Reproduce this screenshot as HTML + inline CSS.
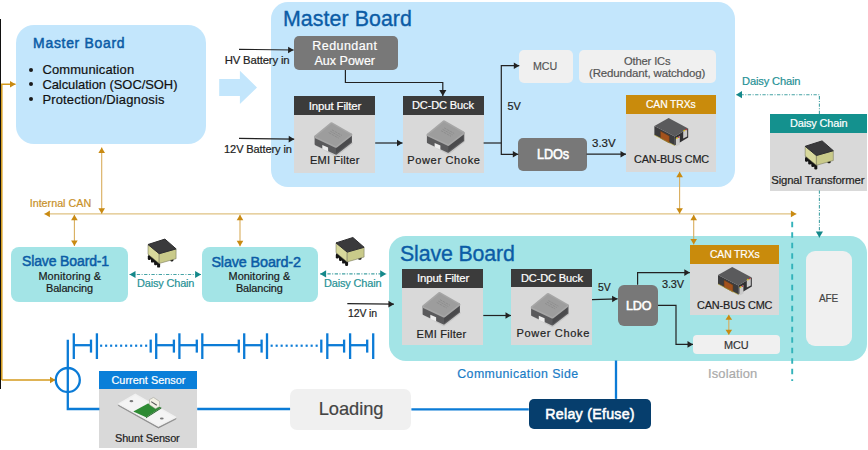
<!DOCTYPE html>
<html><head><meta charset="utf-8"><style>
html,body{margin:0;padding:0;background:#fff;width:868px;height:450px;overflow:hidden;position:relative;font-family:"Liberation Sans",sans-serif;}
.a{position:absolute}
.t{position:absolute;white-space:nowrap;line-height:1;-webkit-text-stroke:0.2px currentColor}
svg{position:absolute;left:0;top:0}
</style></head><body>
<div class="a" style="left:16.00px;top:25.00px;width:190.00px;height:119.30px;background:#c3e6fc;border-radius:18px;"></div>
<div class="t" style="left:33.10px;top:37.00px;font-size:13.95px;letter-spacing:0.710px;color:#0b5ca6;-webkit-text-stroke:0.5px currentColor;">Master Board</div>
<div class="a" style="left:29px;top:67.70px;width:4px;height:4px;border-radius:50%;background:#1a1a1a"></div>
<div class="t" style="left:42.40px;top:64.00px;font-size:12.94px;letter-spacing:0.158px;color:#111;">Communication</div>
<div class="a" style="left:29px;top:82.45px;width:4px;height:4px;border-radius:50%;background:#1a1a1a"></div>
<div class="t" style="left:42.40px;top:79.00px;font-size:12.94px;letter-spacing:-0.040px;color:#111;">Calculation (SOC/SOH)</div>
<div class="a" style="left:29px;top:97.20px;width:4px;height:4px;border-radius:50%;background:#1a1a1a"></div>
<div class="t" style="left:42.40px;top:94.00px;font-size:12.94px;letter-spacing:0.183px;color:#111;">Protection/Diagnosis</div>
<div class="a" style="left:271.30px;top:1.80px;width:463.70px;height:184.90px;background:#c3e6fc;border-radius:17px;"></div>
<div class="t" style="left:283.00px;top:9.00px;font-size:21.37px;letter-spacing:0.063px;color:#0b5ca6;-webkit-text-stroke:0.35px currentColor;">Master Board</div>
<div class="a" style="left:294.00px;top:36.00px;width:104.00px;height:34.00px;background:#787878;border-radius:5px;"></div>
<div class="t" style="left:312.30px;top:40.00px;font-size:12.50px;letter-spacing:0.439px;color:#fff;">Redundant</div>
<div class="t" style="left:314.50px;top:55.00px;font-size:12.50px;letter-spacing:0.008px;color:#fff;">Aux Power</div>
<div class="a" style="left:294.40px;top:96.40px;width:80.80px;height:18.80px;background:#3b3b3b;border-radius:0px;"></div>
<div class="a" style="left:294.40px;top:115.20px;width:80.80px;height:57.50px;background:#d9d9d9;border-radius:0px;"></div>
<div class="t" style="left:308.80px;top:101.00px;font-size:11.48px;letter-spacing:-0.150px;color:#fff;">Input Filter</div>
<div class="t" style="left:309.90px;top:155.00px;font-size:11.05px;letter-spacing:0.247px;color:#222;">EMI Filter</div>
<div class="a" style="left:402.50px;top:95.90px;width:81.10px;height:18.80px;background:#3b3b3b;border-radius:0px;"></div>
<div class="a" style="left:402.50px;top:114.70px;width:81.10px;height:58.00px;background:#d9d9d9;border-radius:0px;"></div>
<div class="t" style="left:411.80px;top:100.00px;font-size:11.48px;letter-spacing:-0.150px;transform:scaleX(0.9652);transform-origin:0 0;color:#fff;">DC-DC Buck</div>
<div class="t" style="left:407.20px;top:155.00px;font-size:11.05px;letter-spacing:0.647px;color:#222;">Power Choke</div>
<div class="a" style="left:519.30px;top:50.20px;width:53.60px;height:33.10px;background:#f0f0f0;border-radius:5px;"></div>
<div class="t" style="left:533.40px;top:60.00px;font-size:11.77px;letter-spacing:-0.150px;transform:scaleX(0.9100);transform-origin:0 0;color:#555;">MCU</div>
<div class="a" style="left:578.80px;top:50.20px;width:137.00px;height:33.30px;background:#f0f0f0;border-radius:5px;"></div>
<div class="t" style="left:623.60px;top:55.00px;font-size:11.63px;letter-spacing:-0.150px;transform:scaleX(0.9595);transform-origin:0 0;color:#555;">Other ICs</div>
<div class="t" style="left:588.70px;top:67.00px;font-size:11.63px;letter-spacing:-0.150px;transform:scaleX(0.9875);transform-origin:0 0;color:#555;">(Redundant, watchdog)</div>
<div class="a" style="left:626.00px;top:95.30px;width:90.00px;height:18.90px;background:#c98b0c;border-radius:0px;"></div>
<div class="a" style="left:626.00px;top:114.20px;width:90.00px;height:57.50px;background:#d9d9d9;border-radius:0px;"></div>
<div class="t" style="left:646.00px;top:99.00px;font-size:11.19px;letter-spacing:-0.150px;transform:scaleX(0.9298);transform-origin:0 0;color:#fff;">CAN TRXs</div>
<div class="t" style="left:633.60px;top:154.00px;font-size:11.19px;letter-spacing:-0.150px;transform:scaleX(0.9708);transform-origin:0 0;color:#222;">CAN-BUS CMC</div>
<div class="a" style="left:518.30px;top:137.70px;width:68.30px;height:33.40px;background:#787878;border-radius:5px;"></div>
<div class="t" style="left:536.50px;top:148.00px;font-size:13.81px;letter-spacing:-0.150px;transform:scaleX(0.9188);transform-origin:0 0;color:#fff;-webkit-text-stroke:0.55px currentColor;">LDOs</div>
<div class="t" style="left:507.50px;top:101.00px;font-size:10.90px;letter-spacing:-0.054px;color:#222;">5V</div>
<div class="t" style="left:592.10px;top:138.00px;font-size:11.48px;letter-spacing:-0.032px;color:#222;">3.3V</div>
<div class="t" style="left:224.70px;top:55.00px;font-size:11.34px;letter-spacing:-0.150px;color:#222;">HV Battery in</div>
<div class="t" style="left:224.10px;top:144.00px;font-size:11.05px;letter-spacing:-0.121px;color:#222;">12V Battery in</div>
<div class="a" style="left:769.80px;top:114.00px;width:97.40px;height:18.50px;background:#14918e;border-radius:0px;"></div>
<div class="a" style="left:769.80px;top:132.50px;width:97.40px;height:58.00px;background:#d9d9d9;border-radius:0px;"></div>
<div class="t" style="left:789.80px;top:118.00px;font-size:11.34px;letter-spacing:-0.150px;transform:scaleX(0.9663);transform-origin:0 0;color:#fff;">Daisy Chain</div>
<div class="t" style="left:771.30px;top:175.00px;font-size:11.34px;letter-spacing:-0.150px;color:#222;">Signal Transformer</div>
<div class="t" style="left:741.90px;top:76.00px;font-size:11.19px;letter-spacing:-0.150px;transform:scaleX(0.9945);transform-origin:0 0;color:#1f9195;">Daisy Chain</div>
<div class="t" style="left:29.70px;top:198.00px;font-size:10.76px;letter-spacing:-0.007px;color:#c8912a;">Internal CAN</div>
<div class="a" style="left:11.10px;top:246.70px;width:116.70px;height:55.00px;background:#a3e4e6;border-radius:8px;"></div>
<div class="t" style="left:21.60px;top:254.00px;font-size:14.39px;letter-spacing:-0.150px;transform:scaleX(0.9759);transform-origin:0 0;color:#0b5ca6;-webkit-text-stroke:0.5px currentColor;">Slave Board-1</div>
<div class="t" style="left:38.40px;top:271.00px;font-size:10.90px;letter-spacing:0.145px;color:#1a1a1a;">Monitoring &amp;</div>
<div class="t" style="left:46.00px;top:283.00px;font-size:10.90px;letter-spacing:-0.107px;color:#1a1a1a;">Balancing</div>
<div class="a" style="left:201.60px;top:247.00px;width:116.00px;height:54.70px;background:#a3e4e6;border-radius:8px;"></div>
<div class="t" style="left:211.40px;top:255.00px;font-size:14.39px;letter-spacing:-0.130px;color:#0b5ca6;-webkit-text-stroke:0.5px currentColor;">Slave Board-2</div>
<div class="t" style="left:228.50px;top:271.00px;font-size:10.90px;letter-spacing:0.054px;color:#1a1a1a;">Monitoring &amp;</div>
<div class="t" style="left:235.90px;top:283.00px;font-size:10.90px;letter-spacing:-0.120px;color:#1a1a1a;">Balancing</div>
<div class="t" style="left:136.90px;top:278.00px;font-size:11.05px;letter-spacing:-0.150px;transform:scaleX(0.9890);transform-origin:0 0;color:#1f9195;">Daisy Chain</div>
<div class="t" style="left:324.40px;top:278.00px;font-size:11.05px;letter-spacing:-0.150px;transform:scaleX(0.9924);transform-origin:0 0;color:#1f9195;">Daisy Chain</div>
<div class="t" style="left:347.90px;top:308.00px;font-size:11.34px;letter-spacing:-0.150px;transform:scaleX(0.9270);transform-origin:0 0;color:#222;">12V in</div>
<div class="a" style="left:388.70px;top:236.30px;width:477.90px;height:124.50px;background:#a3e4e6;border-radius:17px;"></div>
<div class="t" style="left:400.30px;top:243.00px;font-size:21.80px;letter-spacing:-0.150px;transform:scaleX(0.9794);transform-origin:0 0;color:#0b5ca6;-webkit-text-stroke:0.35px currentColor;">Slave Board</div>
<div class="a" style="left:402.20px;top:268.90px;width:81.10px;height:18.70px;background:#3b3b3b;border-radius:0px;"></div>
<div class="a" style="left:402.20px;top:287.60px;width:81.10px;height:57.50px;background:#d9d9d9;border-radius:0px;"></div>
<div class="t" style="left:417.30px;top:273.00px;font-size:11.48px;letter-spacing:-0.150px;transform:scaleX(0.9942);transform-origin:0 0;color:#fff;">Input Filter</div>
<div class="t" style="left:416.60px;top:329.00px;font-size:11.05px;letter-spacing:0.247px;color:#222;">EMI Filter</div>
<div class="a" style="left:511.00px;top:268.50px;width:81.00px;height:18.10px;background:#3b3b3b;border-radius:0px;"></div>
<div class="a" style="left:511.00px;top:286.60px;width:81.00px;height:58.60px;background:#d9d9d9;border-radius:0px;"></div>
<div class="t" style="left:520.50px;top:273.00px;font-size:11.48px;letter-spacing:-0.150px;transform:scaleX(0.9652);transform-origin:0 0;color:#fff;">DC-DC Buck</div>
<div class="t" style="left:516.40px;top:328.00px;font-size:11.05px;letter-spacing:0.667px;color:#222;">Power Choke</div>
<div class="a" style="left:617.60px;top:284.80px;width:40.40px;height:41.60px;background:#787878;border-radius:6px;"></div>
<div class="t" style="left:625.60px;top:300.00px;font-size:12.65px;letter-spacing:-0.150px;transform:scaleX(0.9889);transform-origin:0 0;color:#fff;-webkit-text-stroke:0.55px currentColor;">LDO</div>
<div class="a" style="left:689.80px;top:244.80px;width:89.40px;height:19.20px;background:#c98b0c;border-radius:0px;"></div>
<div class="a" style="left:689.80px;top:264.00px;width:89.40px;height:50.70px;background:#d9d9d9;border-radius:0px;"></div>
<div class="t" style="left:709.50px;top:249.00px;font-size:11.19px;letter-spacing:-0.150px;transform:scaleX(0.9298);transform-origin:0 0;color:#fff;">CAN TRXs</div>
<div class="t" style="left:697.00px;top:300.00px;font-size:11.19px;letter-spacing:-0.150px;transform:scaleX(0.9747);transform-origin:0 0;color:#222;">CAN-BUS CMC</div>
<div class="a" style="left:693.00px;top:334.70px;width:86.70px;height:19.50px;background:#f0f0f0;border-radius:4px;"></div>
<div class="t" style="left:723.70px;top:339.00px;font-size:11.63px;letter-spacing:-0.150px;transform:scaleX(0.9368);transform-origin:0 0;color:#333;">MCU</div>
<div class="a" style="left:806.40px;top:251.20px;width:46.10px;height:94.70px;background:#f0f0f0;border-radius:9px;"></div>
<div class="t" style="left:819.20px;top:293.00px;font-size:11.19px;letter-spacing:-0.150px;transform:scaleX(0.8943);transform-origin:0 0;color:#444;">AFE</div>
<div class="t" style="left:598.40px;top:282.00px;font-size:10.61px;letter-spacing:-0.150px;transform:scaleX(0.9807);transform-origin:0 0;color:#222;">5V</div>
<div class="t" style="left:662.00px;top:279.00px;font-size:11.19px;letter-spacing:-0.150px;transform:scaleX(0.9756);transform-origin:0 0;color:#222;">3.3V</div>
<div class="t" style="left:457.30px;top:368.00px;font-size:12.35px;letter-spacing:0.408px;color:#1a7cc6;">Communication Side</div>
<div class="t" style="left:708.00px;top:368.00px;font-size:12.94px;letter-spacing:0.139px;color:#aaaaaa;">Isolation</div>
<div class="a" style="left:99.40px;top:370.90px;width:97.80px;height:18.00px;background:#0a7fd9;border-radius:0px;"></div>
<div class="a" style="left:99.40px;top:388.90px;width:97.80px;height:58.70px;background:#d9d9d9;border-radius:0px;"></div>
<div class="t" style="left:111.50px;top:375.00px;font-size:10.90px;letter-spacing:0.007px;color:#fff;">Current Sensor</div>
<div class="t" style="left:115.40px;top:433.00px;font-size:11.34px;letter-spacing:-0.150px;transform:scaleX(0.9664);transform-origin:0 0;color:#222;">Shunt Sensor</div>
<div class="a" style="left:290.10px;top:388.80px;width:121.30px;height:41.00px;background:#f0f0f0;border-radius:7px;"></div>
<div class="t" style="left:318.70px;top:400.00px;font-size:18.31px;letter-spacing:-0.050px;color:#444;">Loading</div>
<div class="a" style="left:528.80px;top:398.90px;width:122.10px;height:29.90px;background:#063e6d;border-radius:5px;"></div>
<div class="t" style="left:545.30px;top:407.00px;font-size:14.24px;letter-spacing:0.257px;color:#fff;-webkit-text-stroke:0.55px currentColor;">Relay (Efuse)</div>
<div class="a" style="left:0.00px;top:19.00px;width:1.20px;height:370.00px;background:#111;border-radius:0px;"></div>
<svg width="868" height="450" viewBox="0 0 868 450">
<path d="M219.2,78.9 L239.9,78.9 L239.9,70.8 L257,87.5 L239.9,104 L239.9,96 L219.2,96 Z" fill="#c3e6fc"/>
<path d="M239.00,49.30 L293.60,50.00" fill="none" stroke="#222" stroke-width="1.2"/>
<path d="M293.60,50.00 L288.06,53.23 L288.14,46.63 Z" fill="#222"/>
<path d="M345.40,70.00 L345.40,82.50 L442.80,82.50 L442.80,95.90" fill="none" stroke="#222" stroke-width="1.2"/>
<path d="M442.80,95.90 L439.20,89.90 L446.40,89.90 Z" fill="#222"/>
<path d="M239.00,138.40 L294.20,139.20" fill="none" stroke="#222" stroke-width="1.2"/>
<path d="M294.20,139.20 L288.65,142.42 L288.75,135.82 Z" fill="#222"/>
<path d="M375.20,143.00 L402.50,143.00" fill="none" stroke="#222" stroke-width="1.2"/>
<path d="M402.50,143.00 L397.00,146.30 L397.00,139.70 Z" fill="#222"/>
<path d="M483.60,143.00 L501.30,143.00" fill="none" stroke="#222" stroke-width="1.2"/>
<path d="M501.30,143.00 L501.30,65.70 L519.30,65.70" fill="none" stroke="#222" stroke-width="1.2"/>
<path d="M519.30,65.70 L513.80,69.00 L513.80,62.40 Z" fill="#222"/>
<path d="M501.30,143.00 L501.30,154.30 L518.30,154.30" fill="none" stroke="#222" stroke-width="1.2"/>
<path d="M518.30,154.30 L512.80,157.60 L512.80,151.00 Z" fill="#222"/>
<path d="M586.60,154.20 L626.00,154.20" fill="none" stroke="#222" stroke-width="1.2"/>
<path d="M626.00,154.20 L620.50,157.50 L620.50,150.90 Z" fill="#222"/>
<path d="M819.40,114.00 L819.40,94.70 L736.00,94.70" fill="none" stroke="#45a2a4" stroke-width="1.1" stroke-dasharray="3.3 1.5 1 1.5"/>
<path d="M736.00,94.70 L742.00,91.10 L742.00,98.30 Z" fill="#14888a"/>
<path d="M819.40,190.50 L819.40,237.40" fill="none" stroke="#45a2a4" stroke-width="1.1" stroke-dasharray="3.3 1.5 1 1.5"/>
<path d="M819.40,237.40 L815.80,231.40 L823.00,231.40 Z" fill="#14888a"/>
<path d="M44.40,213.90 L796.40,213.90" fill="none" stroke="#dfc282" stroke-width="1.4"/>
<path d="M796.40,213.90 L790.90,217.20 L790.90,210.60 Z" fill="#c98a12"/>
<path d="M44.40,213.90 L49.90,210.60 L49.90,217.20 Z" fill="#c98a12"/>
<path d="M101.70,147.50 L101.70,213.80" fill="none" stroke="#d9ad5c" stroke-width="1.1"/>
<path d="M101.70,213.80 L98.40,208.30 L105.00,208.30 Z" fill="#c98a12"/>
<path d="M101.70,147.50 L105.00,153.00 L98.40,153.00 Z" fill="#c98a12"/>
<path d="M74.40,214.80 L74.40,246.00" fill="none" stroke="#d9ad5c" stroke-width="1.1"/>
<path d="M74.40,246.00 L71.10,240.50 L77.70,240.50 Z" fill="#c98a12"/>
<path d="M74.40,214.80 L77.70,220.30 L71.10,220.30 Z" fill="#c98a12"/>
<path d="M240.00,214.80 L240.00,246.30" fill="none" stroke="#d9ad5c" stroke-width="1.1"/>
<path d="M240.00,246.30 L236.70,240.80 L243.30,240.80 Z" fill="#c98a12"/>
<path d="M240.00,214.80 L243.30,220.30 L236.70,220.30 Z" fill="#c98a12"/>
<path d="M679.60,171.70 L679.60,213.80" fill="none" stroke="#d9ad5c" stroke-width="1.1"/>
<path d="M679.60,213.80 L676.30,208.30 L682.90,208.30 Z" fill="#c98a12"/>
<path d="M679.60,171.70 L682.90,177.20 L676.30,177.20 Z" fill="#c98a12"/>
<path d="M693.70,214.80 L693.70,244.60" fill="none" stroke="#d9ad5c" stroke-width="1.1"/>
<path d="M693.70,244.60 L690.40,239.10 L697.00,239.10 Z" fill="#c98a12"/>
<path d="M693.70,214.80 L697.00,220.30 L690.40,220.30 Z" fill="#c98a12"/>
<path d="M728.80,314.70 L728.80,334.70" fill="none" stroke="#d9ad5c" stroke-width="1.1"/>
<path d="M728.80,334.70 L725.50,329.70 L732.10,329.70 Z" fill="#c98a12"/>
<path d="M728.80,314.70 L732.10,319.70 L725.50,319.70 Z" fill="#c98a12"/>
<path d="M1.80,380.00 L1.80,84.20 L15.50,84.20" fill="none" stroke="#d49a1c" stroke-width="1.5"/>
<path d="M15.50,84.20 L10.00,87.50 L10.00,80.90 Z" fill="#c98a12"/>
<path d="M1.80,380.00 L55.50,380.00" fill="none" stroke="#d49a1c" stroke-width="1.5"/>
<path d="M55.50,380.00 L50.00,383.30 L50.00,376.70 Z" fill="#c98a12"/>
<path d="M129.50,274.50 L201.10,274.50" fill="none" stroke="#45a2a4" stroke-width="1.1" stroke-dasharray="3.3 1.5 1 1.5"/>
<path d="M201.10,274.50 L195.10,278.10 L195.10,270.90 Z" fill="#14888a"/>
<path d="M129.50,274.50 L135.50,270.90 L135.50,278.10 Z" fill="#14888a"/>
<path d="M320.10,273.90 L386.20,273.90" fill="none" stroke="#45a2a4" stroke-width="1.1" stroke-dasharray="3.3 1.5 1 1.5"/>
<path d="M386.20,273.90 L380.20,277.50 L380.20,270.30 Z" fill="#14888a"/>
<path d="M320.10,273.90 L326.10,270.30 L326.10,277.50 Z" fill="#14888a"/>
<path d="M347.30,303.60 L393.90,304.20" fill="none" stroke="#222" stroke-width="1.2"/>
<path d="M393.90,304.20 L388.36,307.43 L388.44,300.83 Z" fill="#222"/>
<path d="M483.30,315.50 L511.00,315.50" fill="none" stroke="#222" stroke-width="1.2"/>
<path d="M511.00,315.50 L505.50,318.80 L505.50,312.20 Z" fill="#222"/>
<path d="M592.00,299.60 L617.60,298.80" fill="none" stroke="#222" stroke-width="1.2"/>
<path d="M617.60,298.80 L612.21,302.27 L612.00,295.67 Z" fill="#222"/>
<path d="M637.60,284.80 L637.60,272.60 L689.80,272.60" fill="none" stroke="#222" stroke-width="1.2"/>
<path d="M689.80,272.60 L684.30,275.90 L684.30,269.30 Z" fill="#222"/>
<path d="M658.00,305.30 L676.00,305.30 L676.00,344.40 L693.00,344.40" fill="none" stroke="#222" stroke-width="1.2"/>
<path d="M693.00,344.40 L687.50,347.70 L687.50,341.10 Z" fill="#222"/>
<path d="M792.20,221.70 L792.20,381.00" fill="none" stroke="#33b2ba" stroke-width="1.9" stroke-dasharray="5.5 5"/>
<path d="M67.80,339.70 L67.80,409.00 L99.40,409.00" fill="none" stroke="#0b7bd6" stroke-width="2.3"/>
<path d="M197.20,409.00 L290.10,409.00" fill="none" stroke="#0b7bd6" stroke-width="2.3"/>
<path d="M411.40,409.40 L528.80,409.40" fill="none" stroke="#0b7bd6" stroke-width="2.3"/>
<path d="M616.00,360.50 L616.00,398.90" fill="none" stroke="#0b7bd6" stroke-width="2.3"/>
<circle cx="67.8" cy="380" r="12" fill="none" stroke="#0b7bd6" stroke-width="2.3"/>
<path d="M73.8,333.3 L73.8,359" stroke="#0b7bd6" stroke-width="2.3"/>
<path d="M96.9,333.3 L96.9,359" stroke="#0b7bd6" stroke-width="2.3"/>
<path d="M156.2,333.3 L156.2,359" stroke="#0b7bd6" stroke-width="2.3"/>
<path d="M179.4,333.3 L179.4,359" stroke="#0b7bd6" stroke-width="2.3"/>
<path d="M202.3,333.3 L202.3,359" stroke="#0b7bd6" stroke-width="2.3"/>
<path d="M244.2,333.3 L244.2,359" stroke="#0b7bd6" stroke-width="2.3"/>
<path d="M267,333.3 L267,359" stroke="#0b7bd6" stroke-width="2.3"/>
<path d="M327.3,333.3 L327.3,359" stroke="#0b7bd6" stroke-width="2.3"/>
<path d="M350.1,333.3 L350.1,359" stroke="#0b7bd6" stroke-width="2.3"/>
<path d="M373.2,333.3 L373.2,359" stroke="#0b7bd6" stroke-width="2.3"/>
<path d="M91,339.6 L91,352.6" stroke="#0b7bd6" stroke-width="2.3"/>
<path d="M150.7,339.6 L150.7,352.6" stroke="#0b7bd6" stroke-width="2.3"/>
<path d="M173.9,339.6 L173.9,352.6" stroke="#0b7bd6" stroke-width="2.3"/>
<path d="M196.8,339.6 L196.8,352.6" stroke="#0b7bd6" stroke-width="2.3"/>
<path d="M238.8,339.6 L238.8,352.6" stroke="#0b7bd6" stroke-width="2.3"/>
<path d="M261.6,339.6 L261.6,352.6" stroke="#0b7bd6" stroke-width="2.3"/>
<path d="M321.3,339.6 L321.3,352.6" stroke="#0b7bd6" stroke-width="2.3"/>
<path d="M344.1,339.6 L344.1,352.6" stroke="#0b7bd6" stroke-width="2.3"/>
<path d="M367.2,339.6 L367.2,352.6" stroke="#0b7bd6" stroke-width="2.3"/>
<path d="M73.8,345.2 L91,345.2" stroke="#0b7bd6" stroke-width="2.3"/>
<path d="M156.2,345.2 L173.9,345.2" stroke="#0b7bd6" stroke-width="2.3"/>
<path d="M179.4,345.2 L196.8,345.2" stroke="#0b7bd6" stroke-width="2.3"/>
<path d="M202.3,345.2 L238.8,345.2" stroke="#0b7bd6" stroke-width="2.3"/>
<path d="M244.2,345.2 L261.6,345.2" stroke="#0b7bd6" stroke-width="2.3"/>
<path d="M327.3,345.2 L344.1,345.2" stroke="#0b7bd6" stroke-width="2.3"/>
<path d="M350.1,345.2 L367.2,345.2" stroke="#0b7bd6" stroke-width="2.3"/>
<rect x="100.10" y="344.6" width="2.1" height="2.2" fill="#0b7bd6"/>
<rect x="105.10" y="344.6" width="2.1" height="2.2" fill="#0b7bd6"/>
<rect x="110.10" y="344.6" width="2.1" height="2.2" fill="#0b7bd6"/>
<rect x="115.10" y="344.6" width="2.1" height="2.2" fill="#0b7bd6"/>
<rect x="120.10" y="344.6" width="2.1" height="2.2" fill="#0b7bd6"/>
<rect x="125.10" y="344.6" width="2.1" height="2.2" fill="#0b7bd6"/>
<rect x="130.10" y="344.6" width="2.1" height="2.2" fill="#0b7bd6"/>
<rect x="135.10" y="344.6" width="2.1" height="2.2" fill="#0b7bd6"/>
<rect x="140.10" y="344.6" width="2.1" height="2.2" fill="#0b7bd6"/>
<rect x="145.10" y="344.6" width="2.1" height="2.2" fill="#0b7bd6"/>
<rect x="270.60" y="344.6" width="2.1" height="2.2" fill="#0b7bd6"/>
<rect x="275.60" y="344.6" width="2.1" height="2.2" fill="#0b7bd6"/>
<rect x="280.60" y="344.6" width="2.1" height="2.2" fill="#0b7bd6"/>
<rect x="285.60" y="344.6" width="2.1" height="2.2" fill="#0b7bd6"/>
<rect x="290.60" y="344.6" width="2.1" height="2.2" fill="#0b7bd6"/>
<rect x="295.60" y="344.6" width="2.1" height="2.2" fill="#0b7bd6"/>
<rect x="300.60" y="344.6" width="2.1" height="2.2" fill="#0b7bd6"/>
<rect x="305.60" y="344.6" width="2.1" height="2.2" fill="#0b7bd6"/>
<rect x="310.60" y="344.6" width="2.1" height="2.2" fill="#0b7bd6"/>
<rect x="315.60" y="344.6" width="2.1" height="2.2" fill="#0b7bd6"/>
<polygon points="316.80,145.10 336.00,155.50 351.80,143.10" fill="none" stroke="#c8c8c8" stroke-width="2" stroke-linejoin="round"/>
<polygon points="315.80,136.80 336.00,146.20 350.80,134.80 350.80,142.10 336.00,153.50 315.80,144.10" fill="#5a5a5c" stroke="#5a5a5c" stroke-width="2.4" stroke-linejoin="round"/>
<polygon points="336.00,146.20 350.80,134.80 350.80,142.10 336.00,153.50" fill="#4a4a4c"/>
<polygon points="331.60,123.80 350.80,134.80 336.00,146.20 315.80,136.80" fill="#a0a0a0" stroke="#a6a6a6" stroke-width="3.2" stroke-linejoin="round"/>
<polygon points="331.60,123.80 350.80,134.80 336.00,146.20 315.80,136.80" fill="#9d9d9d"/>
<path d="M331.9,129.8 l10,5.6" stroke="#8a8a8a" stroke-width="0.8" stroke-dasharray="2.6 0.8"/>
<path d="M330.3,131.2 l10,5.6" stroke="#8a8a8a" stroke-width="0.8" stroke-dasharray="2.6 0.8"/>
<path d="M328.7,132.6 l10,5.6" stroke="#8a8a8a" stroke-width="0.8" stroke-dasharray="2.6 0.8"/>
<polygon points="322.30,145.00 328.10,147.50 328.10,151.60 322.30,149.10" fill="#ececec"/>
<polygon points="429.10,143.20 448.30,153.60 464.10,141.20" fill="none" stroke="#c8c8c8" stroke-width="2" stroke-linejoin="round"/>
<polygon points="428.10,134.90 448.30,144.30 463.10,132.90 463.10,140.20 448.30,151.60 428.10,142.20" fill="#5a5a5c" stroke="#5a5a5c" stroke-width="2.4" stroke-linejoin="round"/>
<polygon points="448.30,144.30 463.10,132.90 463.10,140.20 448.30,151.60" fill="#4a4a4c"/>
<polygon points="443.90,121.90 463.10,132.90 448.30,144.30 428.10,134.90" fill="#a0a0a0" stroke="#a6a6a6" stroke-width="3.2" stroke-linejoin="round"/>
<polygon points="443.90,121.90 463.10,132.90 448.30,144.30 428.10,134.90" fill="#9d9d9d"/>
<path d="M444.2,127.9 l10,5.6" stroke="#8a8a8a" stroke-width="0.8" stroke-dasharray="2.6 0.8"/>
<path d="M442.6,129.3 l10,5.6" stroke="#8a8a8a" stroke-width="0.8" stroke-dasharray="2.6 0.8"/>
<path d="M441.0,130.7 l10,5.6" stroke="#8a8a8a" stroke-width="0.8" stroke-dasharray="2.6 0.8"/>
<polygon points="434.60,143.10 440.40,145.60 440.40,149.70 434.60,147.20" fill="#ececec"/>
<polygon points="424.80,314.90 444.00,325.30 459.80,312.90" fill="none" stroke="#c8c8c8" stroke-width="2" stroke-linejoin="round"/>
<polygon points="423.80,306.60 444.00,316.00 458.80,304.60 458.80,311.90 444.00,323.30 423.80,313.90" fill="#5a5a5c" stroke="#5a5a5c" stroke-width="2.4" stroke-linejoin="round"/>
<polygon points="444.00,316.00 458.80,304.60 458.80,311.90 444.00,323.30" fill="#4a4a4c"/>
<polygon points="439.60,293.60 458.80,304.60 444.00,316.00 423.80,306.60" fill="#a0a0a0" stroke="#a6a6a6" stroke-width="3.2" stroke-linejoin="round"/>
<polygon points="439.60,293.60 458.80,304.60 444.00,316.00 423.80,306.60" fill="#9d9d9d"/>
<path d="M439.9,299.6 l10,5.6" stroke="#8a8a8a" stroke-width="0.8" stroke-dasharray="2.6 0.8"/>
<path d="M438.3,301.0 l10,5.6" stroke="#8a8a8a" stroke-width="0.8" stroke-dasharray="2.6 0.8"/>
<path d="M436.7,302.4 l10,5.6" stroke="#8a8a8a" stroke-width="0.8" stroke-dasharray="2.6 0.8"/>
<polygon points="430.30,314.80 436.10,317.30 436.10,321.40 430.30,318.90" fill="#ececec"/>
<polygon points="533.30,315.90 552.50,326.30 568.30,313.90" fill="none" stroke="#c8c8c8" stroke-width="2" stroke-linejoin="round"/>
<polygon points="532.30,307.60 552.50,317.00 567.30,305.60 567.30,312.90 552.50,324.30 532.30,314.90" fill="#5a5a5c" stroke="#5a5a5c" stroke-width="2.4" stroke-linejoin="round"/>
<polygon points="552.50,317.00 567.30,305.60 567.30,312.90 552.50,324.30" fill="#4a4a4c"/>
<polygon points="548.10,294.60 567.30,305.60 552.50,317.00 532.30,307.60" fill="#a0a0a0" stroke="#a6a6a6" stroke-width="3.2" stroke-linejoin="round"/>
<polygon points="548.10,294.60 567.30,305.60 552.50,317.00 532.30,307.60" fill="#9d9d9d"/>
<path d="M548.4,300.6 l10,5.6" stroke="#8a8a8a" stroke-width="0.8" stroke-dasharray="2.6 0.8"/>
<path d="M546.8,302.0 l10,5.6" stroke="#8a8a8a" stroke-width="0.8" stroke-dasharray="2.6 0.8"/>
<path d="M545.2,303.4 l10,5.6" stroke="#8a8a8a" stroke-width="0.8" stroke-dasharray="2.6 0.8"/>
<polygon points="538.80,315.80 544.60,318.30 544.60,322.40 538.80,319.90" fill="#ececec"/>
<polygon points="654.40,126.00 674.80,136.60 674.80,145.60 654.40,135.00" fill="#3c3c3e"/>
<polygon points="674.80,136.60 688.20,128.60 688.20,137.60 674.80,145.60" fill="#303032"/>
<polygon points="668.60,118.00 688.20,128.60 674.80,136.60 654.40,126.00" fill="#5a5a5c"/>
<polygon points="660.40,131.00 669.40,136.00 669.40,143.00 660.40,138.00" fill="#a3521c" stroke="#5a3a20" stroke-width="0.6"/>
<polygon points="675.80,138.60 679.80,136.10 679.80,144.60 675.80,146.60" fill="#c9c9c9"/>
<polygon points="683.20,131.60 687.20,129.10 687.20,136.60 683.20,138.60" fill="#c9c9c9"/>
<circle cx="676.8" cy="138.2" r="0.9" fill="#d8c020"/><circle cx="678.8" cy="137.2" r="0.8" fill="#c83030"/><circle cx="684.2" cy="130.6" r="0.9" fill="#d8c020"/><circle cx="686.2" cy="129.6" r="0.8" fill="#c83030"/>
<path d="M654.4,135.0 L674.8,145.6" stroke="#b8a830" stroke-width="0.6"/>
<polygon points="718.00,275.00 738.40,285.60 738.40,294.60 718.00,284.00" fill="#3c3c3e"/>
<polygon points="738.40,285.60 751.80,277.60 751.80,286.60 738.40,294.60" fill="#303032"/>
<polygon points="732.20,267.00 751.80,277.60 738.40,285.60 718.00,275.00" fill="#5a5a5c"/>
<polygon points="724.00,280.00 733.00,285.00 733.00,292.00 724.00,287.00" fill="#a3521c" stroke="#5a3a20" stroke-width="0.6"/>
<polygon points="739.40,287.60 743.40,285.10 743.40,293.60 739.40,295.60" fill="#c9c9c9"/>
<polygon points="746.80,280.60 750.80,278.10 750.80,285.60 746.80,287.60" fill="#c9c9c9"/>
<circle cx="740.4" cy="287.2" r="0.9" fill="#d8c020"/><circle cx="742.4" cy="286.2" r="0.8" fill="#c83030"/><circle cx="747.8" cy="279.6" r="0.9" fill="#d8c020"/><circle cx="749.8" cy="278.6" r="0.8" fill="#c83030"/>
<path d="M718.0,284.0 L738.4,294.6" stroke="#b8a830" stroke-width="0.6"/>
<polygon points="148.50,253.30 159.20,262.50 159.20,266.50 148.50,257.30" fill="#1a1a1a"/>
<rect x="147.8" y="255.4" width="3" height="4.6" rx="1.2" fill="#141414"/>
<rect x="151.0" y="258.0" width="3" height="4.6" rx="1.2" fill="#141414"/>
<rect x="154.1" y="260.6" width="3" height="4.6" rx="1.2" fill="#141414"/>
<rect x="157.1" y="263.0" width="3" height="4.6" rx="1.2" fill="#141414"/>
<rect x="170.1" y="257.2" width="3.4" height="4.2" rx="1.3" fill="#141414"/>
<polygon points="148.00,244.50 159.20,253.70 159.20,263.50 148.00,254.30" fill="#d8d99c" stroke="#6a6a50" stroke-width="0.5"/>
<polygon points="159.20,253.70 176.10,248.90 176.10,258.70 159.20,263.50" fill="#c9ca8a" stroke="#6a6a50" stroke-width="0.5"/>
<polygon points="164.90,239.10 176.10,248.90 159.20,253.70 148.00,244.50" fill="#3a3a3c" stroke="#2e2e30" stroke-width="1" stroke-linejoin="round"/>
<polygon points="336.50,251.70 347.20,260.90 347.20,264.90 336.50,255.70" fill="#1a1a1a"/>
<rect x="335.8" y="253.8" width="3" height="4.6" rx="1.2" fill="#141414"/>
<rect x="339.0" y="256.4" width="3" height="4.6" rx="1.2" fill="#141414"/>
<rect x="342.1" y="259.0" width="3" height="4.6" rx="1.2" fill="#141414"/>
<rect x="345.1" y="261.4" width="3" height="4.6" rx="1.2" fill="#141414"/>
<rect x="358.1" y="255.6" width="3.4" height="4.2" rx="1.3" fill="#141414"/>
<polygon points="336.00,242.90 347.20,252.10 347.20,261.90 336.00,252.70" fill="#d8d99c" stroke="#6a6a50" stroke-width="0.5"/>
<polygon points="347.20,252.10 364.10,247.30 364.10,257.10 347.20,261.90" fill="#c9ca8a" stroke="#6a6a50" stroke-width="0.5"/>
<polygon points="352.90,237.50 364.10,247.30 347.20,252.10 336.00,242.90" fill="#3a3a3c" stroke="#2e2e30" stroke-width="1" stroke-linejoin="round"/>
<polygon points="805.70,155.10 816.40,164.30 816.40,168.30 805.70,159.10" fill="#1a1a1a"/>
<rect x="805.0" y="157.2" width="3" height="4.6" rx="1.2" fill="#141414"/>
<rect x="808.2" y="159.8" width="3" height="4.6" rx="1.2" fill="#141414"/>
<rect x="811.3" y="162.4" width="3" height="4.6" rx="1.2" fill="#141414"/>
<rect x="814.3" y="164.8" width="3" height="4.6" rx="1.2" fill="#141414"/>
<rect x="827.3" y="159.0" width="3.4" height="4.2" rx="1.3" fill="#141414"/>
<polygon points="805.20,146.30 816.40,155.50 816.40,165.30 805.20,156.10" fill="#d8d99c" stroke="#6a6a50" stroke-width="0.5"/>
<polygon points="816.40,155.50 833.30,150.70 833.30,160.50 816.40,165.30" fill="#c9ca8a" stroke="#6a6a50" stroke-width="0.5"/>
<polygon points="822.10,140.90 833.30,150.70 816.40,155.50 805.20,146.30" fill="#3a3a3c" stroke="#2e2e30" stroke-width="1" stroke-linejoin="round"/>
<polygon points="118.40,404.00 118.40,405.60 158.40,428.00 175.80,419.10 175.80,417.30 158.40,426.20" fill="#8c8c8c" stroke="#8c8c8c" stroke-width="0.8" stroke-linejoin="round"/>
<polygon points="135.30,394.30 175.80,417.30 158.40,426.20 118.40,404.00" fill="#f4f4f4" stroke="#f0f0f0" stroke-width="1.4" stroke-linejoin="round"/>
<polygon points="133.30,411.60 148.00,403.60 161.30,407.60 146.00,417.20" fill="#2e8b34"/>
<polygon points="146.00,417.20 161.30,407.60 161.30,408.60 146.00,418.30" fill="#1d5e22"/>
<polygon points="149.50,399.60 153.50,397.40 159.50,401.40 159.50,406.60 155.50,408.80 149.50,404.80" fill="#f2f0e4" stroke="#9a9a90" stroke-width="0.5"/>
<path d="M151.2,401.6 L156.8,405.2" stroke="#555" stroke-width="1.1"/>
<ellipse cx="131.4" cy="401.2" rx="1.9" ry="1.1" fill="#7a7a7a"/><ellipse cx="161.8" cy="418.5" rx="1.9" ry="1.1" fill="#7a7a7a"/>
</svg>
</body></html>
